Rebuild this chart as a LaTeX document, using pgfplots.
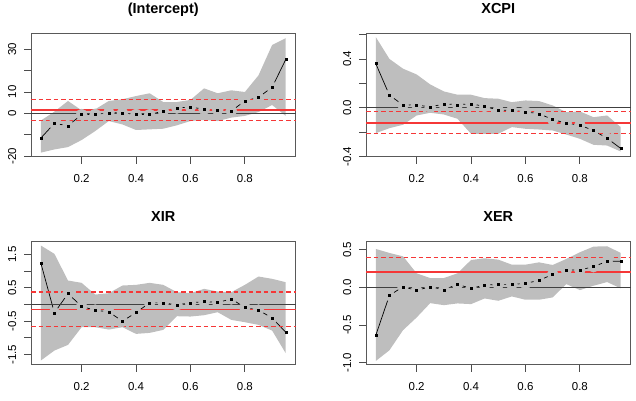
\documentclass[border=0pt]{standalone}
\usepackage{fontspec}
\setmainfont{Liberation Sans}
\usepackage{pgfplots}
\pgfplotsset{compat=1.18}
\usepackage{pgfplotstable}
\usepgfplotslibrary{fillbetween}
\definecolor{bandgray}{RGB}{190,190,190}
\definecolor{olsred}{RGB}{245,55,55}

\pgfplotstableread{
tau est lo hi
0.05 -11.6 -18.4 -3.4
0.10 -4.7 -16.9 0.8
0.15 -5.8 -15.8 5.8
0.20 -0.6 -12.5 1.4
0.25 -0.5 -8.3 1.9
0.30 0.3 -3.6 5.8
0.35 0.2 -5.2 6.6
0.40 -0.5 -7.8 8.1
0.45 -0.6 -7.5 9.4
0.50 1.1 -7.2 5.3
0.55 2.5 -5.6 5.3
0.60 3.0 -3.6 6.3
0.65 1.9 -3.1 11.7
0.70 1.7 -3.6 9.4
0.75 1.1 -2.0 10.8
0.80 5.8 -1.2 10.0
0.85 7.5 0.6 17.8
0.90 12.2 3.9 32.0
0.95 25.2 -1.2 35.2
}\tInt

\pgfplotstableread{
tau est lo hi
0.05 0.361 -0.208 0.579
0.10 0.104 -0.167 0.400
0.15 0.022 -0.139 0.320
0.20 0.025 -0.063 0.273
0.25 0.005 -0.041 0.191
0.30 0.033 -0.055 0.134
0.35 0.025 -0.090 0.107
0.40 0.033 -0.213 0.107
0.45 0.011 -0.213 0.079
0.50 -0.019 -0.213 0.074
0.55 -0.022 -0.158 0.046
0.60 -0.033 -0.172 0.060
0.65 -0.049 -0.178 0.055
0.70 -0.096 -0.186 0.019
0.75 -0.126 -0.219 -0.036
0.80 -0.142 -0.254 -0.030
0.85 -0.186 -0.303 -0.077
0.90 -0.249 -0.309 -0.063
0.95 -0.333 -0.358 -0.158
}\tCPI

\pgfplotstableread{
tau est lo hi
0.05 1.25 -1.68 1.77
0.10 -0.25 -1.38 1.52
0.15 0.33 -1.21 0.72
0.20 -0.06 -0.68 0.65
0.25 -0.17 -0.68 0.30
0.30 -0.22 -0.75 0.34
0.35 -0.50 -0.68 0.57
0.40 -0.24 -0.88 0.59
0.45 0.05 -0.85 0.65
0.50 0.05 -0.76 0.59
0.55 -0.01 -0.35 0.37
0.60 0.05 -0.36 0.34
0.65 0.09 -0.32 0.47
0.70 0.06 -0.23 0.39
0.75 0.17 -0.46 0.37
0.80 -0.09 -0.53 0.59
0.85 -0.17 -0.61 0.84
0.90 -0.40 -0.78 0.77
0.95 -0.83 -1.46 0.67
}\tIR

\pgfplotstableread{
tau est lo hi
0.05 -0.636 -0.978 0.511
0.10 -0.107 -0.836 0.458
0.15 0.009 -0.569 0.413
0.20 -0.040 -0.400 0.187
0.25 0.009 -0.209 0.124
0.30 -0.031 -0.236 0.124
0.35 0.040 -0.213 0.187
0.40 -0.013 -0.222 0.364
0.45 0.031 -0.147 0.387
0.50 0.040 -0.178 0.369
0.55 0.040 -0.120 0.302
0.60 0.053 -0.164 0.302
0.65 0.093 -0.164 0.333
0.70 0.173 -0.133 0.298
0.75 0.231 0.044 0.378
0.80 0.231 -0.036 0.467
0.85 0.276 0.022 0.542
0.90 0.347 0.071 0.547
0.95 0.347 -0.013 0.458
}\tER

\pgfplotsset{
  qr/.style={
    scale only axis, width=264.5bp, height=123.4bp,
    xmin=0.014, xmax=0.986, clip=false,
    axis line style={black!65, line width=0.8bp},
    tick style={black!70, line width=0.8bp},
    major tick length=7bp, tick align=outside,
    xtick pos=bottom, ytick pos=left,
    xtick={0.2,0.4,0.6,0.8}, xticklabels={0.2,0.4,0.6,0.8},
    tick label style={font=\fontsize{11.5bp}{13bp}\selectfont},
    xticklabel style={anchor=base}, xticklabel shift=18.7bp,
    yticklabel style={rotate=90, anchor=base}, yticklabel shift=8bp,
    title style={font=\bfseries\fontsize{14.5bp}{16bp}\selectfont, at={(0.5,1)}, anchor=base, yshift=13.7bp},
  },
  olsline/.style={draw=olsred, color=olsred, line width=1.8bp},
  olsdash/.style={draw=olsred, color=olsred, line width=1.6bp, dash pattern=on 4.5bp off 3bp},
}

\newcommand{\qrpanel}[3]{% table, ols, hi-ols
  \addplot[name path=hi, draw=none] table[x=tau,y=hi]{#1};
  \addplot[name path=lo, draw=none] table[x=tau,y=lo]{#1};
  \addplot[bandgray, draw=none] fill between[of=hi and lo];
  \addplot[black, line width=0.7bp] table[x=tau,y=est]{#1};
  \addplot[only marks, mark=*, mark size=5.6bp, bandgray, mark options={draw=bandgray, fill=bandgray}, restrict x to domain=0.07:0.93] table[x=tau,y=est]{#1};
  \addplot[black!75, line width=0.7bp] coordinates {(0.014,0) (0.986,0)};
  \addplot[olsline] coordinates {(0.014,#2) (0.986,#2)};
  \addplot[olsdash] coordinates {(0.014,#3) (0.986,#3)};
}
\newcommand{\qrpoints}[1]{%
  \addplot[only marks, mark=square*, mark size=1bp, black] table[x=tau,y=est]{#1};
}

\begin{document}
\begin{tikzpicture}
\path (0,0) rectangle (636bp,395bp);

\begin{axis}[qr, at={(31bp,244bp)}, anchor=south west, title={(Intercept)},
  ymin=-20.4, ymax=37.4, ytick={-20,-10,0,10,20,30}, yticklabels={-20,,0,10,,30}]
\qrpanel{\tInt}{1.6}{6.4}
\addplot[olsdash] coordinates {(0.014,-3.3) (0.986,-3.3)};
\qrpoints{\tInt}
\end{axis}

\begin{axis}[qr, at={(366bp,244bp)}, anchor=south west, title={XCPI},
  ymin=-0.402, ymax=0.608, ytick={-0.4,-0.2,0,0.2,0.4,0.6}, yticklabels={-0.4,,0.0,,0.4,}]
\qrpanel{\tCPI}{-0.123}{-0.031}
\addplot[olsdash] coordinates {(0.014,-0.212) (0.986,-0.212)};
\qrpoints{\tCPI}
\end{axis}

\begin{axis}[qr, at={(31bp,36bp)}, anchor=south west, title={XIR},
  ymin=-1.81, ymax=1.89, ytick={-1.5,-1,-0.5,0,0.5,1,1.5}, yticklabels={-1.5,,-0.5,,0.5,,1.5}]
\qrpanel{\tIR}{-0.15}{0.37}
\addplot[olsdash] coordinates {(0.014,-0.66) (0.986,-0.66)};
\qrpoints{\tIR}
\end{axis}

\begin{axis}[qr, at={(366bp,36bp)}, anchor=south west, title={XER},
  ymin=-1.03, ymax=0.61, ytick={-1,-0.5,0,0.5}, yticklabels={-1.0,-0.5,0.0,0.5}]
\qrpanel{\tER}{0.209}{0.40}
\qrpoints{\tER}
\end{axis}
\end{tikzpicture}
\end{document}
